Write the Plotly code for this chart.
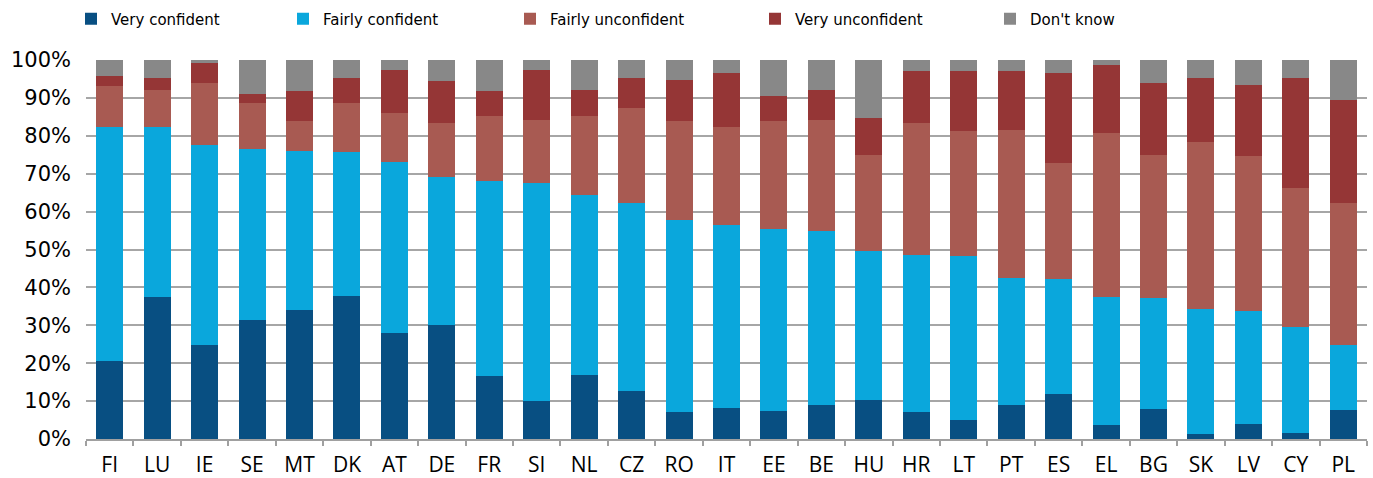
import plotly.graph_objects as go

# Share of respondents by confidence level, per country (%)
countries = ["FI", "LU", "IE", "SE", "MT", "DK", "AT", "DE", "FR", "SI", "NL", "CZ", "RO", "IT",
             "EE", "BE", "HU", "HR", "LT", "PT", "ES", "EL", "BG", "SK", "LV", "CY", "PL"]
very_confident = [20.5, 37.6, 24.9, 31.5, 34.1, 37.8, 28.0, 30.1, 16.7, 9.9, 17.0, 12.6, 7.0, 8.3,
                  7.5, 8.9, 10.4, 7.0, 4.9, 9.1, 11.8, 3.8, 7.8, 1.2, 4.0, 1.7, 7.7]
fairly_confident = [61.7, 44.6, 52.7, 44.9, 41.9, 38.0, 45.2, 39.1, 51.4, 57.7, 47.4, 49.7, 50.9, 48.2,
                    47.8, 46.0, 39.2, 41.6, 43.5, 33.5, 30.3, 33.7, 29.5, 33.0, 29.8, 27.9, 17.2]
fairly_unconfident = [11.0, 9.9, 16.4, 12.3, 7.9, 12.9, 12.8, 14.2, 17.1, 16.6, 20.8, 25.0, 26.0, 25.8,
                      28.6, 29.3, 25.4, 34.8, 32.9, 39.0, 30.7, 43.3, 37.7, 44.2, 40.9, 36.7, 37.4]
very_unconfident = [2.7, 3.2, 5.3, 2.2, 7.9, 6.6, 11.4, 11.1, 6.6, 13.2, 6.9, 8.0, 10.8, 14.3,
                    6.6, 7.9, 9.7, 13.7, 15.8, 15.5, 23.8, 17.9, 18.9, 16.9, 18.7, 29.0, 27.2]
dont_know = [4.1, 4.7, 0.7, 9.1, 8.2, 4.7, 2.6, 5.5, 8.2, 2.6, 7.9, 4.7, 5.3, 3.4,
             9.5, 7.9, 15.3, 2.9, 2.9, 2.9, 3.4, 1.3, 6.1, 4.7, 6.6, 4.7, 10.5]

series_names = ["Very confident", "Fairly confident", "Fairly unconfident", "Very unconfident", "Don't know"]
series_values = [very_confident, fairly_confident, fairly_unconfident, very_unconfident, dont_know]
series_colors = ["#084f82", "#0aa7dc", "#a85a52", "#953636", "#888888"]

# Left edge (px) of each legend entry
legend_left_px = [71, 283, 510, 755, 990]

W, H = 1373, 478
ML, MR, MT, MB = 86, 6, 60, 39
plot_w = W - ML - MR
plot_h = H - MT - MB

fig = go.Figure()
legend_ids = ["legend"] + [f"legend{i}" for i in range(2, len(series_names) + 1)]
for name, vals, color, lid in zip(series_names, series_values, series_colors, legend_ids):
    fig.add_trace(go.Bar(
        x=countries, y=vals, name=name,
        marker=dict(color=color, line=dict(width=0)),
        legend=lid,
    ))

legend_font = dict(family="DejaVu Sans", size=15, color="#000000")
layout_legends = {}
for lid, px in zip(legend_ids, legend_left_px):
    layout_legends[lid] = dict(
        x=(px - ML) / plot_w, xanchor="left",
        y=1 + (MT - 19) / plot_h, yanchor="middle",
        orientation="h", font=legend_font,
        bgcolor="rgba(0,0,0,0)", borderwidth=0,
    )

fig.update_layout(
    width=W, height=H,
    margin=dict(l=ML, r=MR, t=MT, b=MB, pad=0, autoexpand=False),
    barmode="stack",
    bargap=0.431,
    plot_bgcolor="#ffffff",
    paper_bgcolor="#ffffff",
    showlegend=True,
    **layout_legends,
)

fig.update_xaxes(
    type="category",
    automargin=False,
    showgrid=False,
    showline=True, linecolor="#a0a0a0", linewidth=1.5,
    ticks="outside", tickson="boundaries", ticklen=5, tickcolor="#a0a0a0", tickwidth=1.5,
    ticklabelstandoff=6,
    tickfont=dict(family="Open Sans", size=21, color="#000000"),
)
fig.update_yaxes(
    automargin=False,
    range=[0, 100],
    dtick=10, tick0=0,
    ticksuffix="%",
    showgrid=True, gridcolor="#a6a6a6", gridwidth=1.5,
    zeroline=False,
    showline=False,
    ticks="",
    ticklabelstandoff=14,
    tickfont=dict(family="DejaVu Sans", size=21, color="#000000"),
)

fig.write_html("out.html")
